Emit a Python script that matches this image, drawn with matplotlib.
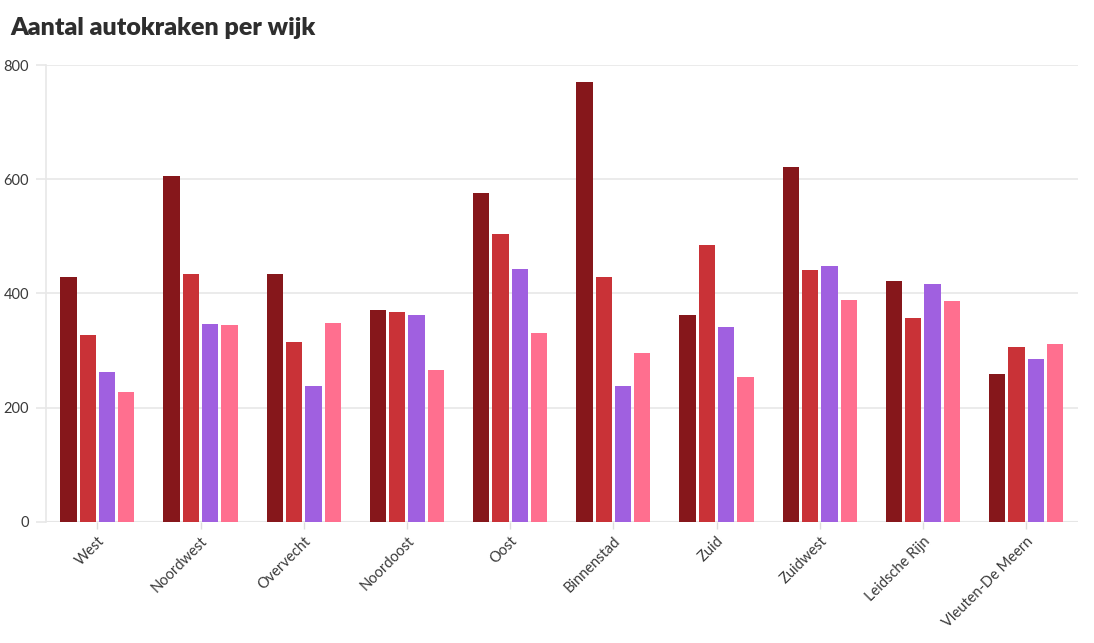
import numpy as np
import matplotlib.pyplot as plt

wijken = ["West", "Noordwest", "Overvecht", "Noordoost", "Oost", "Binnenstad",
          "Zuid", "Zuidwest", "Leidsche Rijn", "Vleuten-De Meern"]

# four series per wijk (no legend in the original)
serie_1 = [429, 606, 434, 370, 575, 771, 362, 621, 421, 258]
serie_2 = [327, 434, 314, 368, 504, 428, 484, 441, 356, 306]
serie_3 = [263, 346, 237, 362, 442, 237, 341, 448, 417, 285]
serie_4 = [228, 345, 348, 265, 330, 295, 253, 389, 387, 311]

series = [serie_1, serie_2, serie_3, serie_4]
colors = ["#86171b", "#c93237", "#a060e0", "#ff6f8f"]

plt.rcParams['font.family'] = ['Lato', 'DejaVu Sans']

fig = plt.figure(figsize=(10.94, 6.43), dpi=100)
ax = fig.add_axes([0.0418, 0.1887, 0.9433, 0.7102])

x = np.arange(len(wijken))
step = 0.187
width = 0.158
for i, (vals, c) in enumerate(zip(series, colors)):
    ax.bar(x + (i - 1.5) * step, vals, width=width, color=c, zorder=3)

ax.set_xlim(-0.5, len(wijken) - 0.5)
ax.set_ylim(0, 800)
ax.set_yticks([0, 200, 400, 600, 800])
ax.grid(axis='y', color='#e8e8e8', linewidth=1.2, zorder=0)

for s in ['top', 'right', 'bottom']:
    ax.spines[s].set_visible(False)
ax.spines['left'].set_color('#e8e8e8')
ax.spines['left'].set_linewidth(1.2)
ax.axhline(0, color='#e6e6e6', linewidth=1.5, zorder=2)

ax.tick_params(axis='y', length=7, width=1.2, color='#e8e8e8', pad=5,
               labelsize=10.5, labelcolor='#3a3a3a')
ax.tick_params(axis='x', length=5, width=1, color='#dddddd', pad=4,
               labelsize=10.5, labelcolor='#3a3a3a')
ax.set_xticks(x)
ax.set_xticklabels(wijken, rotation=45, ha='right', rotation_mode='anchor')

fig.text(0.009, 0.945, "Aantal autokraken per wijk", fontsize=18,
         fontweight='heavy', color='#2e2e2e', va='baseline')

fig.savefig("out.png", dpi=100, facecolor='white')
